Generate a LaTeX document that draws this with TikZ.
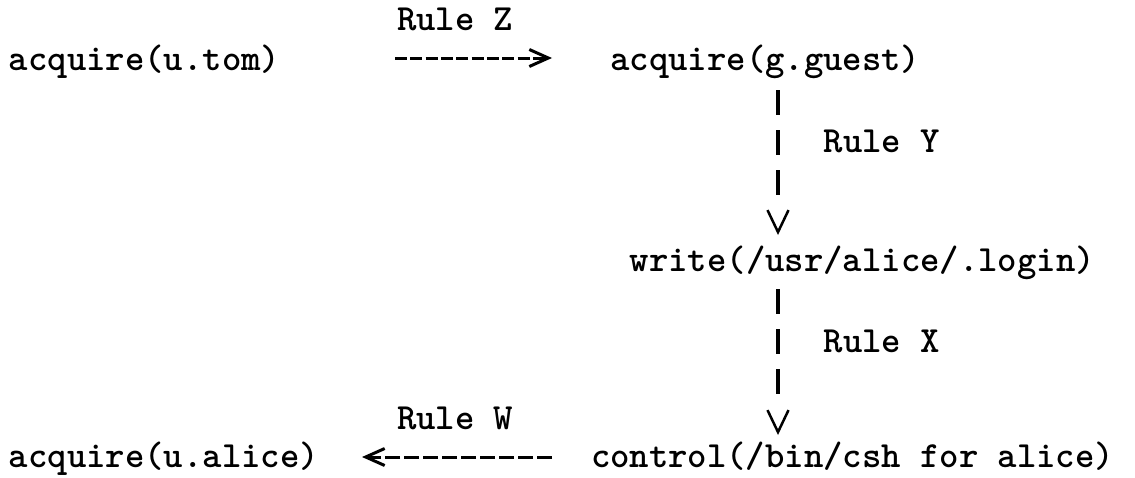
\documentclass[tikz,border=0pt]{standalone}
\usetikzlibrary{arrows.meta}
\begin{document}
\begin{tikzpicture}[x=1pt,y=-1pt,
  every node/.style={inner sep=0pt, outer sep=0pt, anchor=base west,
    font=\fontsize{36.9}{40}\selectfont\ttfamily\bfseries},
  hlink/.style={line width=3pt,
    -{Straight Barb[length=19pt,width=17pt,line width=3pt]}},
  vlink/.style={line width=3.5pt,
    dash pattern=on 25pt off 15pt on 25pt off 15pt on 25pt off 60pt,
    -{Straight Barb[length=22pt,width=21pt,line width=2.5pt]}}]
\useasboundingbox (0,0) rectangle (1135,477);
\fill[white] (0,0) rectangle (1135,477);

% states
\node (tom)   at (9,70)      {acquire(u.tom)};
\node (guest) at (610.4,70)  {acquire(g.guest)};
\node (write) at (629.8,271) {write(/usr/alice/.login)};
\node (csh)   at (591,467)   {control(/bin/csh for alice)};
\node (alice) at (9,467)     {acquire(u.alice)};

% rule labels
\node (zlab) at (397,30)    {Rule Z};
\node (ylab) at (823.8,152) {Rule Y};
\node (xlab) at (823.8,352) {Rule X};
\node (wlab) at (397,429)   {Rule W};

% end points of the links
\coordinate (zs) at (395,58);
\coordinate (ze) at (552,58);
\coordinate (ys) at (778,90);
\coordinate (ye) at (778,235);
\coordinate (xs) at (778,289);
\coordinate (xe) at (778,435);
\coordinate (ws) at (552,457);
\coordinate (we) at (362,457);

\draw[hlink, dash pattern=on 12pt off 3.33pt] (zs) -- (ze);
\draw[vlink] (ys) -- (ye);
\draw[vlink] (xs) -- (xe);
\draw[hlink, dash pattern=on 15pt off 4pt] (ws) -- (we);
\end{tikzpicture}
\end{document}
